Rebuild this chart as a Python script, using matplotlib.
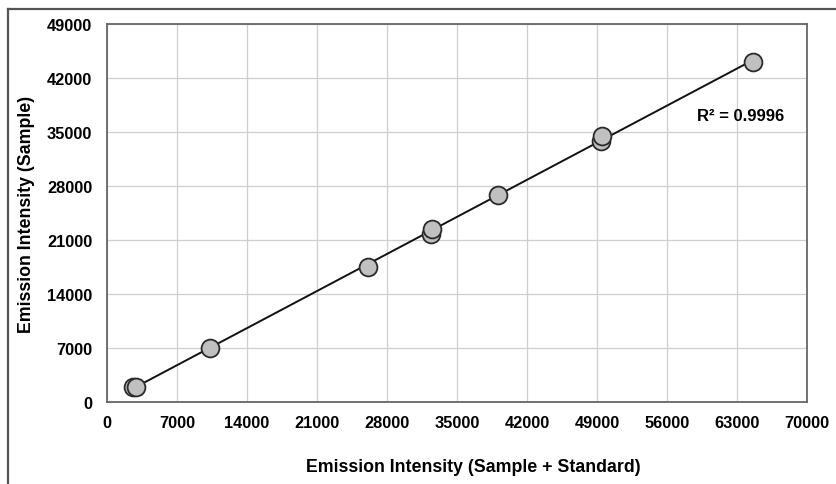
import numpy as np
import matplotlib
matplotlib.use("Agg")
import matplotlib.pyplot as plt
from matplotlib.lines import Line2D

plt.rcParams['font.family'] = ['Liberation Sans', 'DejaVu Sans']
plt.rcParams['font.weight'] = 'bold'

x_vals = [2600, 2900, 10300, 26100, 32370, 32470, 39130, 49400, 49470, 64570]
y_vals = [2000, 2000, 6960, 17500, 21780, 22430, 26870, 33870, 34520, 44120]
x_ticks = [0, 7000, 14000, 21000, 28000, 35000, 42000, 49000, 56000, 63000, 70000]
y_ticks = [0, 7000, 14000, 21000, 28000, 35000, 42000, 49000]
r2_label = "R² = 0.9996"
x_label = "Emission Intensity (Sample + Standard)"
y_label = "Emission Intensity (Sample)"

fig = plt.figure(figsize=(8.36, 4.85), dpi=100)
ax = fig.add_axes([0.128, 0.169, 0.8373, 0.7795])

x = np.array(x_vals, dtype=float)
y = np.array(y_vals, dtype=float)
m, b = np.polyfit(x, y, 1)
xl = np.array([x.min(), x.max()])
ax.plot(xl, m * xl + b, color='#111111', lw=1.4, zorder=2)
ax.scatter(x, y, s=165, facecolor='#c0c0c0', edgecolor='#2a2a2a', linewidth=1.3, zorder=3)

ax.set_xlim(0, 70000)
ax.set_ylim(0, 49000)
ax.set_xticks(x_ticks)
ax.set_yticks(y_ticks)
ax.set_xticklabels([str(t) for t in x_ticks], fontsize=11.8, fontweight='bold')
ax.set_yticklabels([str(t) for t in y_ticks], fontsize=11.8, fontweight='bold')
ax.tick_params(length=0)
ax.tick_params(axis='x', pad=9)
ax.tick_params(axis='y', pad=10.5)
ax.grid(True, color='#cfcfcf', lw=0.9)
ax.set_axisbelow(True)
for s in ax.spines.values():
    s.set_color('#666666')
    s.set_linewidth(1.3)

ax.set_xlabel(x_label, fontsize=12.8, fontweight='bold')
ax.xaxis.set_label_coords(0.524, -0.148)
ax.set_ylabel(y_label, fontsize=12.8, fontweight='bold', labelpad=9)

ax.text(59000, 37200, r2_label, fontsize=12, fontweight='bold', ha='left', va='center')

# outer frame (left and top edges visible)
fig.add_artist(Line2D([8/836, 8/836], [0, 1 - 10/485], transform=fig.transFigure, color='#555555', lw=1.6))
fig.add_artist(Line2D([8/836, 1], [1 - 10/485, 1 - 10/485], transform=fig.transFigure, color='#555555', lw=1.6))

fig.savefig("out.png", dpi=100)
